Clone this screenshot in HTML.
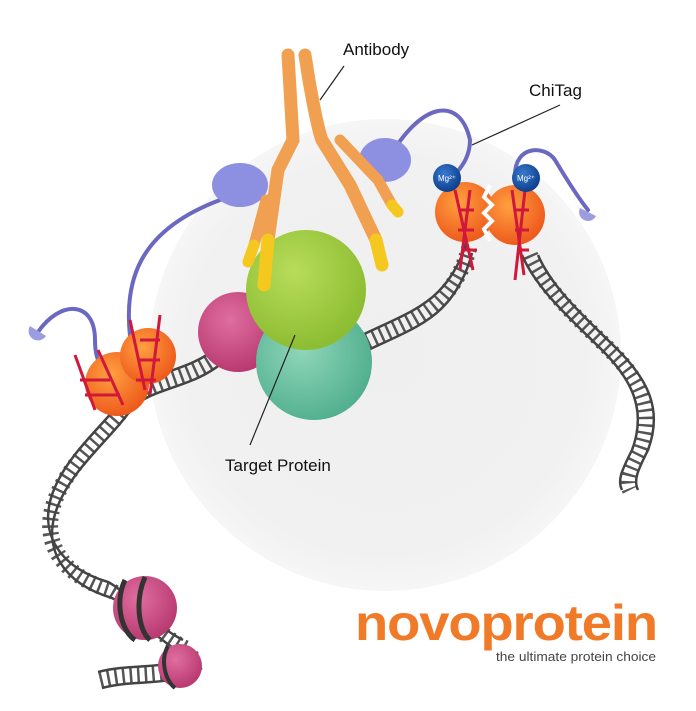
<!DOCTYPE html>
<html><head><style>
html,body{margin:0;padding:0;background:#fff;}
svg{display:block}
text{font-family:"Liberation Sans",sans-serif}
</style></head><body>
<svg width="696" height="711" viewBox="0 0 696 711" xmlns="http://www.w3.org/2000/svg">
<defs>
<radialGradient id="gc" cx="50%" cy="50%" r="50%"><stop offset="0" stop-color="#efefef"/><stop offset="0.85" stop-color="#f1f1f1"/><stop offset="1" stop-color="#f6f6f6"/></radialGradient>
<radialGradient id="gg" cx="40%" cy="35%" r="65%"><stop offset="0" stop-color="#b8dc5a"/><stop offset="1" stop-color="#8cbd32"/></radialGradient>
<radialGradient id="gt" cx="40%" cy="40%" r="65%"><stop offset="0" stop-color="#8fd6b8"/><stop offset="1" stop-color="#4fae8e"/></radialGradient>
<radialGradient id="gp" cx="40%" cy="35%" r="65%"><stop offset="0" stop-color="#e06ea0"/><stop offset="1" stop-color="#b83a70"/></radialGradient>
<radialGradient id="go" cx="40%" cy="35%" r="65%"><stop offset="0" stop-color="#ffa040"/><stop offset="1" stop-color="#ee5a1c"/></radialGradient>
<radialGradient id="gb" cx="40%" cy="35%" r="65%"><stop offset="0" stop-color="#3a7ad0"/><stop offset="1" stop-color="#0d3f8c"/></radialGradient>
</defs>
<circle cx="385" cy="355" r="236" fill="url(#gc)"/>
<!-- DNA -->
<g fill="none">
<path d="M100 680 C140 670 170 680 200 660 M185 648 C150 630 130 600 110 590 C60 575 40 540 55 500 C70 460 110 430 130 400 C150 380 190 380 220 355 M360 345 C390 330 420 320 440 300 C455 285 465 265 470 245" stroke="#555" stroke-width="16" stroke-dasharray="2.5 5" stroke-linecap="butt"/>
<path d="M100 680 C140 670 170 680 200 660 M185 648 C150 630 130 600 110 590 C60 575 40 540 55 500 C70 460 110 430 130 400 C150 380 190 380 220 355 M360 345 C390 330 420 320 440 300 C455 285 465 265 470 245" stroke="#444" stroke-width="2.5" transform="translate(-2,-8)"/>
<path d="M100 680 C140 670 170 680 200 660 M185 648 C150 630 130 600 110 590 C60 575 40 540 55 500 C70 460 110 430 130 400 C150 380 190 380 220 355 M360 345 C390 330 420 320 440 300 C455 285 465 265 470 245" stroke="#444" stroke-width="2.5" transform="translate(2,8)"/>
<path d="M530 255 C545 290 580 320 610 350 C640 380 655 410 640 450 C630 470 625 480 630 490" stroke="#555" stroke-width="16" stroke-dasharray="2.5 5" stroke-linecap="butt"/>
<path d="M530 255 C545 290 580 320 610 350 C640 380 655 410 640 450 C630 470 625 480 630 490" stroke="#444" stroke-width="2.5" transform="translate(-8,0)"/>
<path d="M530 255 C545 290 580 320 610 350 C640 380 655 410 640 450 C630 470 625 480 630 490" stroke="#444" stroke-width="2.5" transform="translate(8,0)"/>
</g>
<!-- nucleosomes -->
<circle cx="145" cy="608" r="32" fill="url(#gp)"/>
<path d="M125 580 C115 600 120 630 135 640 M145 577 C135 600 138 630 150 640" stroke="#333" stroke-width="5" fill="none"/>
<circle cx="180" cy="666" r="22" fill="url(#gp)"/>
<path d="M168 646 C160 660 165 680 175 688" stroke="#333" stroke-width="4" fill="none"/>
<!-- blue tethers -->
<g fill="none" stroke="#6a68c0" stroke-width="4" stroke-linecap="round">
<path d="M38 332 C60 300 95 300 95 340 C95 370 110 375 115 372"/>
<path d="M132 350 C120 280 140 230 220 200 C240 190 245 185 250 185"/>
<path d="M385 165 C420 100 460 95 470 140 C470 160 458 170 455 175"/>
<path d="M515 175 C515 145 545 145 555 160 C570 185 580 200 588 210"/>
</g>
<ellipse cx="240" cy="185" rx="28" ry="22" fill="#8d8fe0"/>
<ellipse cx="385" cy="160" rx="26" ry="22" fill="#8d8fe0"/>
<path d="M30 326 a8 8 0 1 0 16 10 z" fill="#9c9de0"/>
<path d="M580 208 a8 8 0 1 0 16 8 z" fill="#9c9de0"/>
<!-- left chitag -->
<circle cx="117" cy="384" r="32" fill="url(#go)"/>
<circle cx="148" cy="356" r="28" fill="url(#go)"/>
<path d="M75 355 l20 55 M98 350 l25 55 M130 320 l15 70 M160 315 l-10 80 M80 380 h30 M85 395 h35 M140 340 h20 M138 360 h22 M136 380 h20" stroke="#d0173c" stroke-width="3" fill="none"/>
<!-- right chitag -->
<circle cx="465" cy="212" r="30" fill="url(#go)"/>
<circle cx="515" cy="215" r="30" fill="url(#go)"/>
<path d="M490 185 l-6 12 l8 8 l-8 8 l8 8 l-8 8 l6 12" stroke="#fff" stroke-width="4" fill="none"/>
<path d="M455 190 l18 80 M470 190 l-10 80 M512 190 l12 85 M525 190 l-10 90 M458 210 h16 M458 230 h16 M463 250 h14 M515 210 h14 M515 230 h14 M517 250 h12" stroke="#d0173c" stroke-width="3" fill="none"/>
<circle cx="447" cy="178" r="14" fill="url(#gb)"/>
<circle cx="526" cy="178" r="14" fill="url(#gb)"/>
<text x="447" y="181" font-size="8" fill="#fff" text-anchor="middle">Mg²⁺</text>
<text x="526" y="181" font-size="8" fill="#fff" text-anchor="middle">Mg²⁺</text>
<!-- proteins -->
<circle cx="238" cy="332" r="40" fill="url(#gp)"/>
<circle cx="314" cy="362" r="58" fill="url(#gt)"/>
<circle cx="306" cy="290" r="60" fill="url(#gg)"/>
<!-- antibody -->
<g stroke-linecap="round" fill="none">
<path d="M288 55 L293 140 L278 170 L268 240" stroke="#f0a050" stroke-width="13"/>
<path d="M305 55 C310 90 318 130 322 140 L350 185 L376 240" stroke="#f0a050" stroke-width="13"/>
<path d="M266 200 L254 245" stroke="#f0a050" stroke-width="11"/>
<path d="M340 140 L378 180 L392 205" stroke="#f0a050" stroke-width="11"/>
<path d="M268 240 L264 285" stroke="#f5c820" stroke-width="13"/>
<path d="M376 240 L382 265" stroke="#f5c820" stroke-width="13"/>
<path d="M254 245 L248 262" stroke="#f5c820" stroke-width="11"/>
<path d="M392 205 L398 212" stroke="#f5c820" stroke-width="11"/>
</g>
<!-- labels -->
<line x1="344" y1="66" x2="320" y2="100" stroke="#222" stroke-width="1.2"/>
<line x1="560" y1="105" x2="472" y2="145" stroke="#222" stroke-width="1.2"/>
<line x1="295" y1="335" x2="250" y2="445" stroke="#222" stroke-width="1.2"/>
<text x="343" y="55" font-size="17" fill="#111">Antibody</text>
<text x="529" y="96" font-size="17" fill="#111">ChiTag</text>
<text x="225" y="471" font-size="17" fill="#111">Target Protein</text>
<!-- logo -->
<text x="355" y="640" font-size="50" font-weight="bold" fill="#f07a28" textLength="302" lengthAdjust="spacingAndGlyphs" letter-spacing="-1">novoprotein</text>
<text x="496" y="661" font-size="12.5" fill="#444" textLength="160" lengthAdjust="spacingAndGlyphs">the ultimate protein choice</text>
</svg>
</body></html>
